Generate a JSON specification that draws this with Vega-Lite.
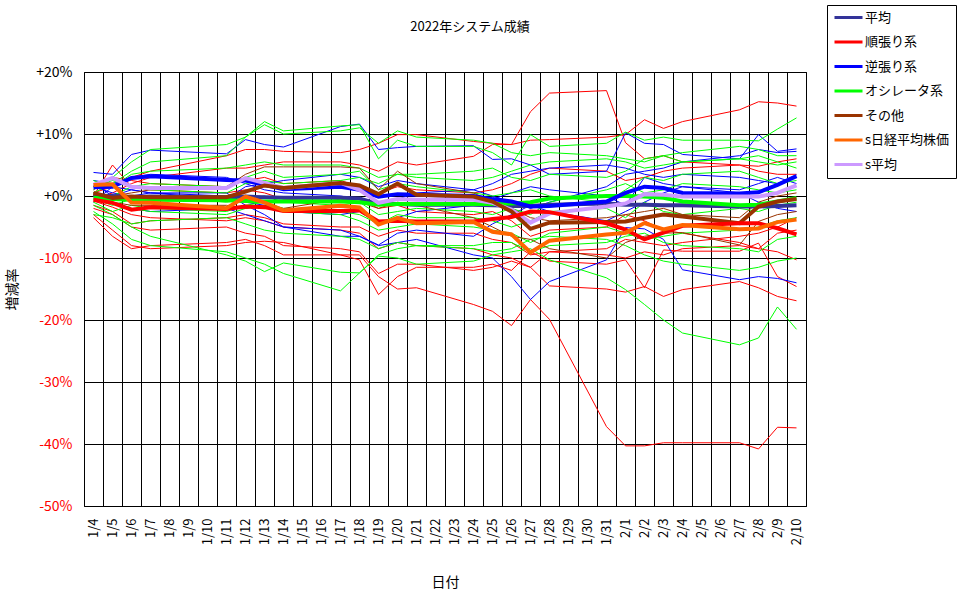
{
  "$schema": "https://vega.github.io/schema/vega-lite/v6.json",
  "width": 722,
  "height": 434,
  "autosize": "none",
  "padding": {"left": 84, "top": 72, "right": 164, "bottom": 93},
  "background": "white",
  "title": {"text": "2022年システム成績", "fontSize": 13, "fontWeight": "normal", "color": "black", "offset": 0, "dy": 29, "dx": 25},
  "datasets": {
    "series": [
      {"s":"R1","g":"順張り系","k":"sys"},{"s":"R2","g":"順張り系","k":"sys"},{"s":"R3","g":"順張り系","k":"sys"},
      {"s":"R4","g":"順張り系","k":"sys"},{"s":"R5","g":"順張り系","k":"sys"},{"s":"R6","g":"順張り系","k":"sys"},
      {"s":"R7","g":"順張り系","k":"sys"},{"s":"R8","g":"順張り系","k":"sys"},{"s":"R9","g":"順張り系","k":"sys"},
      {"s":"B1","g":"逆張り系","k":"sys"},{"s":"B2","g":"逆張り系","k":"sys"},{"s":"B3","g":"逆張り系","k":"sys"},
      {"s":"B4","g":"逆張り系","k":"sys"},{"s":"B5","g":"逆張り系","k":"sys"},{"s":"B6","g":"逆張り系","k":"sys"},
      {"s":"G1","g":"オシレータ系","k":"sys"},{"s":"G2","g":"オシレータ系","k":"sys"},{"s":"G3","g":"オシレータ系","k":"sys"},
      {"s":"G4","g":"オシレータ系","k":"sys"},{"s":"G5","g":"オシレータ系","k":"sys"},{"s":"G6","g":"オシレータ系","k":"sys"},
      {"s":"G7","g":"オシレータ系","k":"sys"},{"s":"G8","g":"オシレータ系","k":"sys"},{"s":"G9","g":"オシレータ系","k":"sys"},
      {"s":"G10","g":"オシレータ系","k":"sys"},{"s":"G11","g":"オシレータ系","k":"sys"},
      {"s":"N1","g":"その他","k":"sys"},{"s":"N2","g":"その他","k":"sys"},
      {"s":"A","g":"平均","k":"avg"},{"s":"AG","g":"オシレータ系","k":"avg"},{"s":"AB","g":"逆張り系","k":"avg"},
      {"s":"SA","g":"s平均","k":"avg"},{"s":"AN","g":"その他","k":"avg"},{"s":"AR","g":"順張り系","k":"avg"},
      {"s":"NK","g":"s日経平均株価","k":"avg"}
    ],
    "rows": [
      {"s":"R1","d":"1/4","v":-3.0},{"s":"R1","d":"1/5","v":-5.5},{"s":"R1","d":"1/6","v":-8.0},{"s":"R1","d":"1/7","v":-8.5},{"s":"R1","d":"1/11","v":-8.0},{"s":"R1","d":"1/12","v":-7.5},{"s":"R1","d":"1/13","v":-7.3},{"s":"R1","d":"1/14","v":-7.5},{"s":"R1","d":"1/17","v":-9.5},{"s":"R1","d":"1/18","v":-9.5},{"s":"R1","d":"1/19","v":-13.0},{"s":"R1","d":"1/20","v":-15.0},{"s":"R1","d":"1/21","v":-14.8},{"s":"R1","d":"1/24","v":-17.5},{"s":"R1","d":"1/25","v":-18.6},{"s":"R1","d":"1/26","v":-20.9},{"s":"R1","d":"1/27","v":-16.7},{"s":"R1","d":"1/28","v":-19.9},{"s":"R1","d":"1/31","v":-37.2},{"s":"R1","d":"2/1","v":-40.3},{"s":"R1","d":"2/2","v":-40.3},{"s":"R1","d":"2/3","v":-39.8},{"s":"R1","d":"2/4","v":-39.8},{"s":"R1","d":"2/7","v":-39.8},{"s":"R1","d":"2/8","v":-40.8},{"s":"R1","d":"2/9","v":-37.3},{"s":"R1","d":"2/10","v":-37.4},
      {"s":"R2","d":"1/4","v":0.5},{"s":"R2","d":"1/5","v":1.5},{"s":"R2","d":"1/6","v":3.0},{"s":"R2","d":"1/7","v":4.0},{"s":"R2","d":"1/11","v":6.5},{"s":"R2","d":"1/12","v":7.5},{"s":"R2","d":"1/13","v":7.5},{"s":"R2","d":"1/14","v":7.2},{"s":"R2","d":"1/17","v":7.0},{"s":"R2","d":"1/18","v":7.5},{"s":"R2","d":"1/19","v":8.5},{"s":"R2","d":"1/20","v":9.9},{"s":"R2","d":"1/21","v":9.9},{"s":"R2","d":"1/24","v":8.8},{"s":"R2","d":"1/25","v":8.5},{"s":"R2","d":"1/26","v":8.3},{"s":"R2","d":"1/27","v":9.0},{"s":"R2","d":"1/28","v":9.1},{"s":"R2","d":"1/31","v":9.5},{"s":"R2","d":"2/1","v":9.9},{"s":"R2","d":"2/2","v":12.3},{"s":"R2","d":"2/3","v":10.9},{"s":"R2","d":"2/4","v":12.0},{"s":"R2","d":"2/7","v":13.9},{"s":"R2","d":"2/8","v":15.2},{"s":"R2","d":"2/9","v":15.0},{"s":"R2","d":"2/10","v":14.5},
      {"s":"R3","d":"1/4","v":-0.5},{"s":"R3","d":"1/5","v":0.5},{"s":"R3","d":"1/6","v":2.0},{"s":"R3","d":"1/7","v":3.0},{"s":"R3","d":"1/11","v":4.5},{"s":"R3","d":"1/12","v":4.5},{"s":"R3","d":"1/13","v":5.0},{"s":"R3","d":"1/14","v":5.5},{"s":"R3","d":"1/17","v":5.5},{"s":"R3","d":"1/18","v":5.0},{"s":"R3","d":"1/19","v":4.0},{"s":"R3","d":"1/20","v":5.5},{"s":"R3","d":"1/21","v":5.0},{"s":"R3","d":"1/24","v":6.4},{"s":"R3","d":"1/25","v":8.3},{"s":"R3","d":"1/26","v":8.3},{"s":"R3","d":"1/27","v":13.6},{"s":"R3","d":"1/28","v":16.6},{"s":"R3","d":"1/31","v":17.0},{"s":"R3","d":"2/1","v":8.6},{"s":"R3","d":"2/2","v":6.0},{"s":"R3","d":"2/3","v":6.5},{"s":"R3","d":"2/4","v":5.5},{"s":"R3","d":"2/7","v":5.0},{"s":"R3","d":"2/8","v":4.8},{"s":"R3","d":"2/9","v":5.5},{"s":"R3","d":"2/10","v":6.0},
      {"s":"R4","d":"1/4","v":-1.5},{"s":"R4","d":"1/5","v":-2.5},{"s":"R4","d":"1/6","v":-4.5},{"s":"R4","d":"1/7","v":-4.0},{"s":"R4","d":"1/11","v":-3.5},{"s":"R4","d":"1/12","v":-3.0},{"s":"R4","d":"1/13","v":-3.5},{"s":"R4","d":"1/14","v":-4.5},{"s":"R4","d":"1/17","v":-5.0},{"s":"R4","d":"1/18","v":-5.0},{"s":"R4","d":"1/19","v":-6.5},{"s":"R4","d":"1/20","v":-5.5},{"s":"R4","d":"1/21","v":-6.0},{"s":"R4","d":"1/24","v":-6.0},{"s":"R4","d":"1/25","v":-7.0},{"s":"R4","d":"1/26","v":-7.5},{"s":"R4","d":"1/27","v":-9.5},{"s":"R4","d":"1/28","v":-9.0},{"s":"R4","d":"1/31","v":-9.5},{"s":"R4","d":"2/1","v":-10.0},{"s":"R4","d":"2/2","v":-9.0},{"s":"R4","d":"2/3","v":-9.5},{"s":"R4","d":"2/4","v":-8.5},{"s":"R4","d":"2/7","v":-8.0},{"s":"R4","d":"2/8","v":-8.5},{"s":"R4","d":"2/9","v":-9.0},{"s":"R4","d":"2/10","v":-10.3},
      {"s":"R5","d":"1/4","v":-2.0},{"s":"R5","d":"1/5","v":-3.0},{"s":"R5","d":"1/6","v":-5.0},{"s":"R5","d":"1/7","v":-5.5},{"s":"R5","d":"1/11","v":-5.0},{"s":"R5","d":"1/12","v":-6.0},{"s":"R5","d":"1/13","v":-6.5},{"s":"R5","d":"1/14","v":-8.0},{"s":"R5","d":"1/17","v":-8.5},{"s":"R5","d":"1/18","v":-9.0},{"s":"R5","d":"1/19","v":-12.5},{"s":"R5","d":"1/20","v":-11.0},{"s":"R5","d":"1/21","v":-11.0},{"s":"R5","d":"1/24","v":-12.0},{"s":"R5","d":"1/25","v":-11.5},{"s":"R5","d":"1/26","v":-10.5},{"s":"R5","d":"1/27","v":-11.5},{"s":"R5","d":"1/28","v":-14.5},{"s":"R5","d":"1/31","v":-15.0},{"s":"R5","d":"2/1","v":-15.5},{"s":"R5","d":"2/2","v":-14.6},{"s":"R5","d":"2/3","v":-16.2},{"s":"R5","d":"2/4","v":-15.1},{"s":"R5","d":"2/7","v":-13.8},{"s":"R5","d":"2/8","v":-14.8},{"s":"R5","d":"2/9","v":-16.2},{"s":"R5","d":"2/10","v":-16.9},
      {"s":"R6","d":"1/4","v":-0.8},{"s":"R6","d":"1/5","v":-1.8},{"s":"R6","d":"1/6","v":-3.0},{"s":"R6","d":"1/7","v":-3.5},{"s":"R6","d":"1/11","v":-4.0},{"s":"R6","d":"1/12","v":-3.5},{"s":"R6","d":"1/13","v":-4.0},{"s":"R6","d":"1/14","v":-5.0},{"s":"R6","d":"1/17","v":-5.5},{"s":"R6","d":"1/18","v":-6.0},{"s":"R6","d":"1/19","v":-8.5},{"s":"R6","d":"1/20","v":-7.5},{"s":"R6","d":"1/21","v":-8.0},{"s":"R6","d":"1/24","v":-8.5},{"s":"R6","d":"1/25","v":-9.5},{"s":"R6","d":"1/26","v":-10.0},{"s":"R6","d":"1/27","v":-11.5},{"s":"R6","d":"1/28","v":-9.0},{"s":"R6","d":"1/31","v":-8.5},{"s":"R6","d":"2/1","v":-7.0},{"s":"R6","d":"2/2","v":-7.5},{"s":"R6","d":"2/3","v":-8.0},{"s":"R6","d":"2/4","v":-7.5},{"s":"R6","d":"2/7","v":-6.5},{"s":"R6","d":"2/8","v":-6.0},{"s":"R6","d":"2/9","v":-5.0},{"s":"R6","d":"2/10","v":-3.5},
      {"s":"R7","d":"1/4","v":1.0},{"s":"R7","d":"1/5","v":3.0},{"s":"R7","d":"1/6","v":2.5},{"s":"R7","d":"1/7","v":2.0},{"s":"R7","d":"1/11","v":1.5},{"s":"R7","d":"1/12","v":2.5},{"s":"R7","d":"1/13","v":3.0},{"s":"R7","d":"1/14","v":2.0},{"s":"R7","d":"1/17","v":2.5},{"s":"R7","d":"1/18","v":1.5},{"s":"R7","d":"1/19","v":0.5},{"s":"R7","d":"1/20","v":1.5},{"s":"R7","d":"1/21","v":1.0},{"s":"R7","d":"1/24","v":0.5},{"s":"R7","d":"1/25","v":1.0},{"s":"R7","d":"1/26","v":2.0},{"s":"R7","d":"1/27","v":3.5},{"s":"R7","d":"1/28","v":4.5},{"s":"R7","d":"1/31","v":4.0},{"s":"R7","d":"2/1","v":2.5},{"s":"R7","d":"2/2","v":3.0},{"s":"R7","d":"2/3","v":4.0},{"s":"R7","d":"2/4","v":4.5},{"s":"R7","d":"2/7","v":5.0},{"s":"R7","d":"2/8","v":4.0},{"s":"R7","d":"2/9","v":3.5},{"s":"R7","d":"2/10","v":3.5},
      {"s":"R8","d":"1/4","v":0.0},{"s":"R8","d":"1/5","v":5.0},{"s":"R8","d":"1/6","v":1.5},{"s":"R8","d":"1/7","v":1.0},{"s":"R8","d":"1/11","v":0.5},{"s":"R8","d":"1/12","v":1.0},{"s":"R8","d":"1/13","v":0.5},{"s":"R8","d":"1/14","v":-0.5},{"s":"R8","d":"1/17","v":-1.0},{"s":"R8","d":"1/18","v":-0.5},{"s":"R8","d":"1/19","v":-2.0},{"s":"R8","d":"1/20","v":-1.5},{"s":"R8","d":"1/21","v":-2.5},{"s":"R8","d":"1/24","v":-3.0},{"s":"R8","d":"1/25","v":-2.5},{"s":"R8","d":"1/26","v":-4.0},{"s":"R8","d":"1/27","v":-6.5},{"s":"R8","d":"1/28","v":-5.5},{"s":"R8","d":"1/31","v":-5.0},{"s":"R8","d":"2/1","v":-3.0},{"s":"R8","d":"2/2","v":-4.0},{"s":"R8","d":"2/3","v":-5.5},{"s":"R8","d":"2/4","v":-6.0},{"s":"R8","d":"2/7","v":-7.5},{"s":"R8","d":"2/8","v":-8.5},{"s":"R8","d":"2/9","v":-6.0},{"s":"R8","d":"2/10","v":-5.5},
      {"s":"R9","d":"1/4","v":-3.5},{"s":"R9","d":"1/5","v":-6.5},{"s":"R9","d":"1/6","v":-8.5},{"s":"R9","d":"1/7","v":-8.0},{"s":"R9","d":"1/11","v":-7.5},{"s":"R9","d":"1/12","v":-7.0},{"s":"R9","d":"1/13","v":-8.0},{"s":"R9","d":"1/14","v":-9.5},{"s":"R9","d":"1/17","v":-9.5},{"s":"R9","d":"1/18","v":-10.3},{"s":"R9","d":"1/19","v":-15.9},{"s":"R9","d":"1/20","v":-13.0},{"s":"R9","d":"1/21","v":-11.5},{"s":"R9","d":"1/24","v":-11.5},{"s":"R9","d":"1/25","v":-11.0},{"s":"R9","d":"1/26","v":-12.0},{"s":"R9","d":"1/27","v":-9.0},{"s":"R9","d":"1/28","v":-10.5},{"s":"R9","d":"1/31","v":-11.0},{"s":"R9","d":"2/1","v":-10.3},{"s":"R9","d":"2/2","v":-14.8},{"s":"R9","d":"2/3","v":-8.7},{"s":"R9","d":"2/4","v":-8.9},{"s":"R9","d":"2/7","v":-8.9},{"s":"R9","d":"2/8","v":-7.6},{"s":"R9","d":"2/9","v":-13.0},{"s":"R9","d":"2/10","v":-14.6},
      {"s":"B1","d":"1/4","v":3.8},{"s":"B1","d":"1/5","v":3.5},{"s":"B1","d":"1/6","v":6.7},{"s":"B1","d":"1/7","v":7.4},{"s":"B1","d":"1/11","v":6.8},{"s":"B1","d":"1/12","v":9.1},{"s":"B1","d":"1/13","v":8.3},{"s":"B1","d":"1/14","v":7.9},{"s":"B1","d":"1/17","v":11.2},{"s":"B1","d":"1/18","v":11.6},{"s":"B1","d":"1/19","v":7.5},{"s":"B1","d":"1/20","v":7.8},{"s":"B1","d":"1/21","v":8.0},{"s":"B1","d":"1/24","v":8.1},{"s":"B1","d":"1/25","v":5.9},{"s":"B1","d":"1/26","v":6.0},{"s":"B1","d":"1/27","v":5.0},{"s":"B1","d":"1/28","v":3.5},{"s":"B1","d":"1/31","v":4.0},{"s":"B1","d":"2/1","v":10.2},{"s":"B1","d":"2/2","v":8.5},{"s":"B1","d":"2/3","v":8.3},{"s":"B1","d":"2/4","v":6.7},{"s":"B1","d":"2/7","v":6.0},{"s":"B1","d":"2/8","v":9.9},{"s":"B1","d":"2/9","v":7.2},{"s":"B1","d":"2/10","v":7.6},
      {"s":"B2","d":"1/4","v":2.5},{"s":"B2","d":"1/5","v":2.0},{"s":"B2","d":"1/6","v":3.0},{"s":"B2","d":"1/7","v":3.5},{"s":"B2","d":"1/11","v":3.0},{"s":"B2","d":"1/12","v":2.0},{"s":"B2","d":"1/13","v":1.0},{"s":"B2","d":"1/14","v":0.5},{"s":"B2","d":"1/17","v":0.0},{"s":"B2","d":"1/18","v":-0.5},{"s":"B2","d":"1/19","v":-1.5},{"s":"B2","d":"1/20","v":-0.5},{"s":"B2","d":"1/21","v":0.5},{"s":"B2","d":"1/24","v":1.0},{"s":"B2","d":"1/25","v":2.0},{"s":"B2","d":"1/26","v":3.5},{"s":"B2","d":"1/27","v":4.0},{"s":"B2","d":"1/28","v":4.5},{"s":"B2","d":"1/31","v":5.0},{"s":"B2","d":"2/1","v":4.5},{"s":"B2","d":"2/2","v":3.5},{"s":"B2","d":"2/3","v":3.0},{"s":"B2","d":"2/4","v":3.5},{"s":"B2","d":"2/7","v":3.0},{"s":"B2","d":"2/8","v":2.5},{"s":"B2","d":"2/9","v":2.0},{"s":"B2","d":"2/10","v":3.4},
      {"s":"B3","d":"1/4","v":-1.0},{"s":"B3","d":"1/5","v":1.5},{"s":"B3","d":"1/6","v":1.0},{"s":"B3","d":"1/7","v":0.5},{"s":"B3","d":"1/11","v":0.5},{"s":"B3","d":"1/12","v":-1.5},{"s":"B3","d":"1/13","v":-3.0},{"s":"B3","d":"1/14","v":-5.0},{"s":"B3","d":"1/17","v":-6.5},{"s":"B3","d":"1/18","v":-6.5},{"s":"B3","d":"1/19","v":-8.0},{"s":"B3","d":"1/20","v":-7.5},{"s":"B3","d":"1/21","v":-7.0},{"s":"B3","d":"1/24","v":-9.5},{"s":"B3","d":"1/25","v":-10.0},{"s":"B3","d":"1/26","v":-13.0},{"s":"B3","d":"1/27","v":-16.7},{"s":"B3","d":"1/28","v":-13.8},{"s":"B3","d":"1/31","v":-10.3},{"s":"B3","d":"2/1","v":-5.1},{"s":"B3","d":"2/2","v":-5.3},{"s":"B3","d":"2/3","v":-7.0},{"s":"B3","d":"2/4","v":-11.9},{"s":"B3","d":"2/7","v":-13.5},{"s":"B3","d":"2/8","v":-13.0},{"s":"B3","d":"2/9","v":-13.3},{"s":"B3","d":"2/10","v":-14.0},
      {"s":"B4","d":"1/4","v":1.5},{"s":"B4","d":"1/5","v":0.5},{"s":"B4","d":"1/6","v":0.0},{"s":"B4","d":"1/7","v":0.5},{"s":"B4","d":"1/11","v":-0.5},{"s":"B4","d":"1/12","v":1.5},{"s":"B4","d":"1/13","v":2.0},{"s":"B4","d":"1/14","v":2.5},{"s":"B4","d":"1/17","v":3.5},{"s":"B4","d":"1/18","v":3.0},{"s":"B4","d":"1/19","v":1.5},{"s":"B4","d":"1/20","v":2.5},{"s":"B4","d":"1/21","v":2.0},{"s":"B4","d":"1/24","v":1.0},{"s":"B4","d":"1/25","v":0.0},{"s":"B4","d":"1/26","v":-1.0},{"s":"B4","d":"1/27","v":-2.0},{"s":"B4","d":"1/28","v":-1.0},{"s":"B4","d":"1/31","v":1.5},{"s":"B4","d":"2/1","v":3.5},{"s":"B4","d":"2/2","v":4.0},{"s":"B4","d":"2/3","v":4.5},{"s":"B4","d":"2/4","v":5.5},{"s":"B4","d":"2/7","v":6.5},{"s":"B4","d":"2/8","v":7.5},{"s":"B4","d":"2/9","v":7.0},{"s":"B4","d":"2/10","v":7.2},
      {"s":"B5","d":"1/4","v":0.5},{"s":"B5","d":"1/5","v":-1.0},{"s":"B5","d":"1/6","v":-2.0},{"s":"B5","d":"1/7","v":-2.5},{"s":"B5","d":"1/11","v":-2.0},{"s":"B5","d":"1/12","v":-3.0},{"s":"B5","d":"1/13","v":-4.0},{"s":"B5","d":"1/14","v":-5.0},{"s":"B5","d":"1/17","v":-5.5},{"s":"B5","d":"1/18","v":-6.5},{"s":"B5","d":"1/19","v":-7.9},{"s":"B5","d":"1/20","v":-6.0},{"s":"B5","d":"1/21","v":-5.5},{"s":"B5","d":"1/24","v":-6.5},{"s":"B5","d":"1/25","v":-4.5},{"s":"B5","d":"1/26","v":-3.0},{"s":"B5","d":"1/27","v":-1.5},{"s":"B5","d":"1/28","v":-2.5},{"s":"B5","d":"1/31","v":-4.0},{"s":"B5","d":"2/1","v":-2.5},{"s":"B5","d":"2/2","v":-1.0},{"s":"B5","d":"2/3","v":0.5},{"s":"B5","d":"2/4","v":1.5},{"s":"B5","d":"2/7","v":0.5},{"s":"B5","d":"2/8","v":-1.0},{"s":"B5","d":"2/9","v":-2.0},{"s":"B5","d":"2/10","v":-2.5},
      {"s":"B6","d":"1/4","v":2.0},{"s":"B6","d":"1/5","v":0.0},{"s":"B6","d":"1/6","v":1.0},{"s":"B6","d":"1/7","v":0.5},{"s":"B6","d":"1/11","v":0.0},{"s":"B6","d":"1/12","v":-1.0},{"s":"B6","d":"1/13","v":-1.5},{"s":"B6","d":"1/14","v":-2.5},{"s":"B6","d":"1/17","v":-3.0},{"s":"B6","d":"1/18","v":-2.5},{"s":"B6","d":"1/19","v":-4.5},{"s":"B6","d":"1/20","v":-3.5},{"s":"B6","d":"1/21","v":-2.5},{"s":"B6","d":"1/24","v":-1.5},{"s":"B6","d":"1/25","v":-0.5},{"s":"B6","d":"1/26","v":0.5},{"s":"B6","d":"1/27","v":1.5},{"s":"B6","d":"1/28","v":1.0},{"s":"B6","d":"1/31","v":0.0},{"s":"B6","d":"2/1","v":-1.5},{"s":"B6","d":"2/2","v":3.0},{"s":"B6","d":"2/3","v":2.0},{"s":"B6","d":"2/4","v":1.5},{"s":"B6","d":"2/7","v":1.0},{"s":"B6","d":"2/8","v":2.0},{"s":"B6","d":"2/9","v":3.0},{"s":"B6","d":"2/10","v":2.0},
      {"s":"G1","d":"1/4","v":1.0},{"s":"G1","d":"1/5","v":3.0},{"s":"G1","d":"1/6","v":5.5},{"s":"G1","d":"1/7","v":7.5},{"s":"G1","d":"1/11","v":8.3},{"s":"G1","d":"1/12","v":9.5},{"s":"G1","d":"1/13","v":12.0},{"s":"G1","d":"1/14","v":10.5},{"s":"G1","d":"1/17","v":11.3},{"s":"G1","d":"1/18","v":11.5},{"s":"G1","d":"1/19","v":6.0},{"s":"G1","d":"1/20","v":9.0},{"s":"G1","d":"1/21","v":8.0},{"s":"G1","d":"1/24","v":8.0},{"s":"G1","d":"1/25","v":7.0},{"s":"G1","d":"1/26","v":5.0},{"s":"G1","d":"1/27","v":9.9},{"s":"G1","d":"1/28","v":8.0},{"s":"G1","d":"1/31","v":8.5},{"s":"G1","d":"2/1","v":10.3},{"s":"G1","d":"2/2","v":9.0},{"s":"G1","d":"2/3","v":9.5},{"s":"G1","d":"2/4","v":9.0},{"s":"G1","d":"2/7","v":9.0},{"s":"G1","d":"2/8","v":8.9},{"s":"G1","d":"2/9","v":10.8},{"s":"G1","d":"2/10","v":12.6},
      {"s":"G2","d":"1/4","v":0.5},{"s":"G2","d":"1/5","v":2.0},{"s":"G2","d":"1/6","v":4.0},{"s":"G2","d":"1/7","v":5.5},{"s":"G2","d":"1/11","v":6.5},{"s":"G2","d":"1/12","v":9.5},{"s":"G2","d":"1/13","v":11.5},{"s":"G2","d":"1/14","v":10.0},{"s":"G2","d":"1/17","v":10.5},{"s":"G2","d":"1/18","v":11.0},{"s":"G2","d":"1/19","v":8.5},{"s":"G2","d":"1/20","v":10.5},{"s":"G2","d":"1/21","v":9.5},{"s":"G2","d":"1/24","v":9.0},{"s":"G2","d":"1/25","v":8.5},{"s":"G2","d":"1/26","v":7.0},{"s":"G2","d":"1/27","v":6.5},{"s":"G2","d":"1/28","v":7.0},{"s":"G2","d":"1/31","v":6.5},{"s":"G2","d":"2/1","v":6.0},{"s":"G2","d":"2/2","v":5.5},{"s":"G2","d":"2/3","v":6.5},{"s":"G2","d":"2/4","v":7.0},{"s":"G2","d":"2/7","v":8.0},{"s":"G2","d":"2/8","v":7.5},{"s":"G2","d":"2/9","v":6.5},{"s":"G2","d":"2/10","v":6.5},
      {"s":"G3","d":"1/4","v":-1.5},{"s":"G3","d":"1/5","v":-3.0},{"s":"G3","d":"1/6","v":-5.0},{"s":"G3","d":"1/7","v":-6.5},{"s":"G3","d":"1/11","v":-9.5},{"s":"G3","d":"1/12","v":-10.5},{"s":"G3","d":"1/13","v":-12.2},{"s":"G3","d":"1/14","v":-10.8},{"s":"G3","d":"1/17","v":-12.3},{"s":"G3","d":"1/18","v":-12.4},{"s":"G3","d":"1/19","v":-9.7},{"s":"G3","d":"1/20","v":-10.0},{"s":"G3","d":"1/21","v":-11.0},{"s":"G3","d":"1/24","v":-10.5},{"s":"G3","d":"1/25","v":-9.5},{"s":"G3","d":"1/26","v":-9.0},{"s":"G3","d":"1/27","v":-8.5},{"s":"G3","d":"1/28","v":-10.3},{"s":"G3","d":"1/31","v":-13.2},{"s":"G3","d":"2/1","v":-15.1},{"s":"G3","d":"2/2","v":-17.5},{"s":"G3","d":"2/3","v":-20.0},{"s":"G3","d":"2/4","v":-22.1},{"s":"G3","d":"2/7","v":-24.0},{"s":"G3","d":"2/8","v":-22.9},{"s":"G3","d":"2/9","v":-17.9},{"s":"G3","d":"2/10","v":-21.5},
      {"s":"G4","d":"1/4","v":-2.5},{"s":"G4","d":"1/5","v":-4.5},{"s":"G4","d":"1/6","v":-7.0},{"s":"G4","d":"1/7","v":-8.0},{"s":"G4","d":"1/11","v":-9.0},{"s":"G4","d":"1/12","v":-10.0},{"s":"G4","d":"1/13","v":-11.0},{"s":"G4","d":"1/14","v":-12.5},{"s":"G4","d":"1/17","v":-15.3},{"s":"G4","d":"1/18","v":-12.4},{"s":"G4","d":"1/19","v":-9.5},{"s":"G4","d":"1/20","v":-8.5},{"s":"G4","d":"1/21","v":-8.0},{"s":"G4","d":"1/24","v":-8.5},{"s":"G4","d":"1/25","v":-9.0},{"s":"G4","d":"1/26","v":-8.5},{"s":"G4","d":"1/27","v":-7.0},{"s":"G4","d":"1/28","v":-6.5},{"s":"G4","d":"1/31","v":-7.0},{"s":"G4","d":"2/1","v":-8.0},{"s":"G4","d":"2/2","v":-9.5},{"s":"G4","d":"2/3","v":-10.5},{"s":"G4","d":"2/4","v":-11.0},{"s":"G4","d":"2/7","v":-12.0},{"s":"G4","d":"2/8","v":-11.5},{"s":"G4","d":"2/9","v":-10.5},{"s":"G4","d":"2/10","v":-10.0},
      {"s":"G5","d":"1/4","v":0.0},{"s":"G5","d":"1/5","v":-1.0},{"s":"G5","d":"1/6","v":-2.0},{"s":"G5","d":"1/7","v":-2.5},{"s":"G5","d":"1/11","v":-3.0},{"s":"G5","d":"1/12","v":-2.0},{"s":"G5","d":"1/13","v":-1.5},{"s":"G5","d":"1/14","v":-2.5},{"s":"G5","d":"1/17","v":-3.0},{"s":"G5","d":"1/18","v":-4.0},{"s":"G5","d":"1/19","v":-5.5},{"s":"G5","d":"1/20","v":-5.0},{"s":"G5","d":"1/21","v":-4.5},{"s":"G5","d":"1/24","v":-5.0},{"s":"G5","d":"1/25","v":-5.5},{"s":"G5","d":"1/26","v":-6.0},{"s":"G5","d":"1/27","v":-7.5},{"s":"G5","d":"1/28","v":-6.0},{"s":"G5","d":"1/31","v":-5.0},{"s":"G5","d":"2/1","v":-6.0},{"s":"G5","d":"2/2","v":-7.0},{"s":"G5","d":"2/3","v":-6.5},{"s":"G5","d":"2/4","v":-6.0},{"s":"G5","d":"2/7","v":-5.5},{"s":"G5","d":"2/8","v":-5.0},{"s":"G5","d":"2/9","v":-4.0},{"s":"G5","d":"2/10","v":-3.5},
      {"s":"G6","d":"1/4","v":1.5},{"s":"G6","d":"1/5","v":2.5},{"s":"G6","d":"1/6","v":1.5},{"s":"G6","d":"1/7","v":1.0},{"s":"G6","d":"1/11","v":0.5},{"s":"G6","d":"1/12","v":2.0},{"s":"G6","d":"1/13","v":2.5},{"s":"G6","d":"1/14","v":2.0},{"s":"G6","d":"1/17","v":2.5},{"s":"G6","d":"1/18","v":3.0},{"s":"G6","d":"1/19","v":2.0},{"s":"G6","d":"1/20","v":3.5},{"s":"G6","d":"1/21","v":3.0},{"s":"G6","d":"1/24","v":2.5},{"s":"G6","d":"1/25","v":3.0},{"s":"G6","d":"1/26","v":4.0},{"s":"G6","d":"1/27","v":5.0},{"s":"G6","d":"1/28","v":5.5},{"s":"G6","d":"1/31","v":6.0},{"s":"G6","d":"2/1","v":5.5},{"s":"G6","d":"2/2","v":4.5},{"s":"G6","d":"2/3","v":5.0},{"s":"G6","d":"2/4","v":5.5},{"s":"G6","d":"2/7","v":6.0},{"s":"G6","d":"2/8","v":5.5},{"s":"G6","d":"2/9","v":5.0},{"s":"G6","d":"2/10","v":5.5},
      {"s":"G7","d":"1/4","v":-0.5},{"s":"G7","d":"1/5","v":-1.5},{"s":"G7","d":"1/6","v":-0.5},{"s":"G7","d":"1/7","v":0.0},{"s":"G7","d":"1/11","v":-1.0},{"s":"G7","d":"1/12","v":-0.5},{"s":"G7","d":"1/13","v":0.0},{"s":"G7","d":"1/14","v":-1.0},{"s":"G7","d":"1/17","v":-1.5},{"s":"G7","d":"1/18","v":-1.0},{"s":"G7","d":"1/19","v":-3.0},{"s":"G7","d":"1/20","v":-2.5},{"s":"G7","d":"1/21","v":-2.0},{"s":"G7","d":"1/24","v":-2.5},{"s":"G7","d":"1/25","v":-3.0},{"s":"G7","d":"1/26","v":-2.0},{"s":"G7","d":"1/27","v":-3.0},{"s":"G7","d":"1/28","v":-1.0},{"s":"G7","d":"1/31","v":1.0},{"s":"G7","d":"2/1","v":2.0},{"s":"G7","d":"2/2","v":0.5},{"s":"G7","d":"2/3","v":1.0},{"s":"G7","d":"2/4","v":2.0},{"s":"G7","d":"2/7","v":1.5},{"s":"G7","d":"2/8","v":1.0},{"s":"G7","d":"2/9","v":0.5},{"s":"G7","d":"2/10","v":1.0},
      {"s":"G8","d":"1/4","v":-3.0},{"s":"G8","d":"1/5","v":-3.5},{"s":"G8","d":"1/6","v":-4.5},{"s":"G8","d":"1/7","v":-4.0},{"s":"G8","d":"1/11","v":-3.5},{"s":"G8","d":"1/12","v":-4.5},{"s":"G8","d":"1/13","v":-5.5},{"s":"G8","d":"1/14","v":-6.0},{"s":"G8","d":"1/17","v":-6.5},{"s":"G8","d":"1/18","v":-7.0},{"s":"G8","d":"1/19","v":-8.5},{"s":"G8","d":"1/20","v":-7.5},{"s":"G8","d":"1/21","v":-8.0},{"s":"G8","d":"1/24","v":-8.0},{"s":"G8","d":"1/25","v":-7.5},{"s":"G8","d":"1/26","v":-7.5},{"s":"G8","d":"1/27","v":-9.0},{"s":"G8","d":"1/28","v":-8.0},{"s":"G8","d":"1/31","v":-7.5},{"s":"G8","d":"2/1","v":-6.5},{"s":"G8","d":"2/2","v":-6.0},{"s":"G8","d":"2/3","v":-7.5},{"s":"G8","d":"2/4","v":-8.0},{"s":"G8","d":"2/7","v":-8.5},{"s":"G8","d":"2/8","v":-9.0},{"s":"G8","d":"2/9","v":-7.0},{"s":"G8","d":"2/10","v":-6.5},
      {"s":"G9","d":"1/4","v":2.5},{"s":"G9","d":"1/5","v":1.5},{"s":"G9","d":"1/6","v":3.5},{"s":"G9","d":"1/7","v":4.0},{"s":"G9","d":"1/11","v":4.5},{"s":"G9","d":"1/12","v":5.0},{"s":"G9","d":"1/13","v":5.5},{"s":"G9","d":"1/14","v":5.0},{"s":"G9","d":"1/17","v":5.0},{"s":"G9","d":"1/18","v":4.5},{"s":"G9","d":"1/19","v":3.0},{"s":"G9","d":"1/20","v":3.5},{"s":"G9","d":"1/21","v":3.5},{"s":"G9","d":"1/24","v":4.0},{"s":"G9","d":"1/25","v":4.5},{"s":"G9","d":"1/26","v":3.0},{"s":"G9","d":"1/27","v":2.5},{"s":"G9","d":"1/28","v":3.5},{"s":"G9","d":"1/31","v":3.0},{"s":"G9","d":"2/1","v":4.0},{"s":"G9","d":"2/2","v":6.0},{"s":"G9","d":"2/3","v":6.5},{"s":"G9","d":"2/4","v":5.5},{"s":"G9","d":"2/7","v":6.0},{"s":"G9","d":"2/8","v":6.5},{"s":"G9","d":"2/9","v":5.5},{"s":"G9","d":"2/10","v":4.5},
      {"s":"G10","d":"1/4","v":-1.0},{"s":"G10","d":"1/5","v":-2.5},{"s":"G10","d":"1/6","v":-1.5},{"s":"G10","d":"1/7","v":-2.0},{"s":"G10","d":"1/11","v":-2.5},{"s":"G10","d":"1/12","v":-1.5},{"s":"G10","d":"1/13","v":-1.0},{"s":"G10","d":"1/14","v":-2.0},{"s":"G10","d":"1/17","v":-2.5},{"s":"G10","d":"1/18","v":-3.0},{"s":"G10","d":"1/19","v":-4.5},{"s":"G10","d":"1/20","v":-3.0},{"s":"G10","d":"1/21","v":-3.5},{"s":"G10","d":"1/24","v":-3.5},{"s":"G10","d":"1/25","v":-4.0},{"s":"G10","d":"1/26","v":-5.0},{"s":"G10","d":"1/27","v":-4.0},{"s":"G10","d":"1/28","v":-2.5},{"s":"G10","d":"1/31","v":-2.0},{"s":"G10","d":"2/1","v":-3.5},{"s":"G10","d":"2/2","v":-1.0},{"s":"G10","d":"2/3","v":-2.5},{"s":"G10","d":"2/4","v":-3.0},{"s":"G10","d":"2/7","v":-2.0},{"s":"G10","d":"2/8","v":-2.5},{"s":"G10","d":"2/9","v":-1.5},{"s":"G10","d":"2/10","v":-1.0},
      {"s":"G11","d":"1/4","v":0.5},{"s":"G11","d":"1/5","v":0.0},{"s":"G11","d":"1/6","v":1.5},{"s":"G11","d":"1/7","v":2.0},{"s":"G11","d":"1/11","v":1.5},{"s":"G11","d":"1/12","v":3.0},{"s":"G11","d":"1/13","v":4.0},{"s":"G11","d":"1/14","v":3.0},{"s":"G11","d":"1/17","v":3.5},{"s":"G11","d":"1/18","v":4.0},{"s":"G11","d":"1/19","v":1.0},{"s":"G11","d":"1/20","v":2.0},{"s":"G11","d":"1/21","v":1.5},{"s":"G11","d":"1/24","v":0.5},{"s":"G11","d":"1/25","v":0.0},{"s":"G11","d":"1/26","v":0.5},{"s":"G11","d":"1/27","v":1.0},{"s":"G11","d":"1/28","v":0.0},{"s":"G11","d":"1/31","v":-1.0},{"s":"G11","d":"2/1","v":1.0},{"s":"G11","d":"2/2","v":3.0},{"s":"G11","d":"2/3","v":2.5},{"s":"G11","d":"2/4","v":3.5},{"s":"G11","d":"2/7","v":4.0},{"s":"G11","d":"2/8","v":3.0},{"s":"G11","d":"2/9","v":2.0},{"s":"G11","d":"2/10","v":2.5},
      {"s":"N1","d":"1/4","v":0.5},{"s":"N1","d":"1/5","v":0.0},{"s":"N1","d":"1/6","v":0.5},{"s":"N1","d":"1/7","v":1.0},{"s":"N1","d":"1/11","v":1.5},{"s":"N1","d":"1/12","v":3.5},{"s":"N1","d":"1/13","v":4.7},{"s":"N1","d":"1/14","v":4.7},{"s":"N1","d":"1/17","v":4.7},{"s":"N1","d":"1/18","v":4.5},{"s":"N1","d":"1/19","v":1.0},{"s":"N1","d":"1/20","v":4.0},{"s":"N1","d":"1/21","v":2.0},{"s":"N1","d":"1/24","v":0.5},{"s":"N1","d":"1/25","v":-1.0},{"s":"N1","d":"1/26","v":-2.0},{"s":"N1","d":"1/27","v":-3.5},{"s":"N1","d":"1/28","v":-4.0},{"s":"N1","d":"1/31","v":-3.5},{"s":"N1","d":"2/1","v":-3.0},{"s":"N1","d":"2/2","v":-2.5},{"s":"N1","d":"2/3","v":-2.0},{"s":"N1","d":"2/4","v":-3.0},{"s":"N1","d":"2/7","v":-3.5},{"s":"N1","d":"2/8","v":-1.0},{"s":"N1","d":"2/9","v":0.0},{"s":"N1","d":"2/10","v":0.5},
      {"s":"N2","d":"1/4","v":0.0},{"s":"N2","d":"1/5","v":-1.0},{"s":"N2","d":"1/6","v":-1.5},{"s":"N2","d":"1/7","v":-1.5},{"s":"N2","d":"1/11","v":-1.5},{"s":"N2","d":"1/12","v":-2.0},{"s":"N2","d":"1/13","v":-1.5},{"s":"N2","d":"1/14","v":-2.0},{"s":"N2","d":"1/17","v":-0.5},{"s":"N2","d":"1/18","v":-1.0},{"s":"N2","d":"1/19","v":-2.0},{"s":"N2","d":"1/20","v":-1.0},{"s":"N2","d":"1/21","v":-1.5},{"s":"N2","d":"1/24","v":-3.5},{"s":"N2","d":"1/25","v":-5.0},{"s":"N2","d":"1/26","v":-6.5},{"s":"N2","d":"1/27","v":-7.0},{"s":"N2","d":"1/28","v":-8.5},{"s":"N2","d":"1/31","v":-10.0},{"s":"N2","d":"2/1","v":-7.5},{"s":"N2","d":"2/2","v":-6.5},{"s":"N2","d":"2/3","v":-6.0},{"s":"N2","d":"2/4","v":-5.9},{"s":"N2","d":"2/7","v":-7.9},{"s":"N2","d":"2/8","v":-4.1},{"s":"N2","d":"2/9","v":-3.0},{"s":"N2","d":"2/10","v":-2.5},
      {"s":"A","d":"1/4","v":0.1},{"s":"A","d":"1/5","v":0.0},{"s":"A","d":"1/6","v":-0.2},{"s":"A","d":"1/7","v":-0.1},{"s":"A","d":"1/11","v":-0.2},{"s":"A","d":"1/12","v":-0.1},{"s":"A","d":"1/13","v":-0.2},{"s":"A","d":"1/14","v":-0.3},{"s":"A","d":"1/17","v":-0.3},{"s":"A","d":"1/18","v":-0.4},{"s":"A","d":"1/19","v":-1.3},{"s":"A","d":"1/20","v":-1.3},{"s":"A","d":"1/21","v":-1.4},{"s":"A","d":"1/24","v":-1.4},{"s":"A","d":"1/25","v":-1.5},{"s":"A","d":"1/26","v":-1.6},{"s":"A","d":"1/27","v":-1.6},{"s":"A","d":"1/28","v":-1.4},{"s":"A","d":"1/31","v":-1.2},{"s":"A","d":"2/1","v":-1.4},{"s":"A","d":"2/2","v":-1.4},{"s":"A","d":"2/3","v":-1.5},{"s":"A","d":"2/4","v":-1.5},{"s":"A","d":"2/7","v":-1.7},{"s":"A","d":"2/8","v":-1.7},{"s":"A","d":"2/9","v":-1.6},{"s":"A","d":"2/10","v":-1.5},
      {"s":"AG","d":"1/4","v":-0.3},{"s":"AG","d":"1/5","v":-0.5},{"s":"AG","d":"1/6","v":-0.6},{"s":"AG","d":"1/7","v":-0.6},{"s":"AG","d":"1/11","v":-0.7},{"s":"AG","d":"1/12","v":-0.8},{"s":"AG","d":"1/13","v":-0.9},{"s":"AG","d":"1/14","v":-0.9},{"s":"AG","d":"1/17","v":-0.9},{"s":"AG","d":"1/18","v":-1.0},{"s":"AG","d":"1/19","v":-1.4},{"s":"AG","d":"1/20","v":-1.3},{"s":"AG","d":"1/21","v":-1.3},{"s":"AG","d":"1/24","v":-1.3},{"s":"AG","d":"1/25","v":-1.3},{"s":"AG","d":"1/26","v":-1.2},{"s":"AG","d":"1/27","v":-1.0},{"s":"AG","d":"1/28","v":-0.4},{"s":"AG","d":"1/31","v":0.0},{"s":"AG","d":"2/1","v":0.0},{"s":"AG","d":"2/2","v":-0.1},{"s":"AG","d":"2/3","v":-0.3},{"s":"AG","d":"2/4","v":-0.9},{"s":"AG","d":"2/7","v":-1.5},{"s":"AG","d":"2/8","v":-1.4},{"s":"AG","d":"2/9","v":-0.9},{"s":"AG","d":"2/10","v":-0.3},
      {"s":"AB","d":"1/4","v":1.4},{"s":"AB","d":"1/5","v":1.5},{"s":"AB","d":"1/6","v":2.9},{"s":"AB","d":"1/7","v":3.2},{"s":"AB","d":"1/11","v":2.6},{"s":"AB","d":"1/12","v":2.5},{"s":"AB","d":"1/13","v":1.8},{"s":"AB","d":"1/14","v":1.1},{"s":"AB","d":"1/17","v":1.5},{"s":"AB","d":"1/18","v":1.0},{"s":"AB","d":"1/19","v":-0.1},{"s":"AB","d":"1/20","v":0.3},{"s":"AB","d":"1/21","v":0.2},{"s":"AB","d":"1/24","v":0.0},{"s":"AB","d":"1/25","v":-0.5},{"s":"AB","d":"1/26","v":-0.9},{"s":"AB","d":"1/27","v":-1.7},{"s":"AB","d":"1/28","v":-1.6},{"s":"AB","d":"1/31","v":-0.9},{"s":"AB","d":"2/1","v":0.5},{"s":"AB","d":"2/2","v":1.5},{"s":"AB","d":"2/3","v":1.3},{"s":"AB","d":"2/4","v":0.5},{"s":"AB","d":"2/7","v":0.4},{"s":"AB","d":"2/8","v":0.6},{"s":"AB","d":"2/9","v":1.8},{"s":"AB","d":"2/10","v":3.2},
      {"s":"SA","d":"1/4","v":1.8},{"s":"SA","d":"1/5","v":2.9},{"s":"SA","d":"1/6","v":1.5},{"s":"SA","d":"1/7","v":1.3},{"s":"SA","d":"1/11","v":1.3},{"s":"SA","d":"1/12","v":2.9},{"s":"SA","d":"1/13","v":2.1},{"s":"SA","d":"1/14","v":1.3},{"s":"SA","d":"1/17","v":2.1},{"s":"SA","d":"1/18","v":1.0},{"s":"SA","d":"1/19","v":-1.1},{"s":"SA","d":"1/20","v":-0.5},{"s":"SA","d":"1/21","v":-0.6},{"s":"SA","d":"1/24","v":-0.6},{"s":"SA","d":"1/25","v":-1.1},{"s":"SA","d":"1/26","v":-2.2},{"s":"SA","d":"1/27","v":-4.3},{"s":"SA","d":"1/28","v":-2.8},{"s":"SA","d":"1/31","v":-1.7},{"s":"SA","d":"2/1","v":-1.2},{"s":"SA","d":"2/2","v":0.3},{"s":"SA","d":"2/3","v":0.2},{"s":"SA","d":"2/4","v":-0.1},{"s":"SA","d":"2/7","v":-0.1},{"s":"SA","d":"2/8","v":-0.1},{"s":"SA","d":"2/9","v":0.5},{"s":"SA","d":"2/10","v":1.7},
      {"s":"AN","d":"1/4","v":0.5},{"s":"AN","d":"1/5","v":-0.3},{"s":"AN","d":"1/6","v":-0.1},{"s":"AN","d":"1/7","v":-0.2},{"s":"AN","d":"1/11","v":-0.2},{"s":"AN","d":"1/12","v":0.7},{"s":"AN","d":"1/13","v":1.7},{"s":"AN","d":"1/14","v":1.3},{"s":"AN","d":"1/17","v":2.1},{"s":"AN","d":"1/18","v":1.7},{"s":"AN","d":"1/19","v":0.3},{"s":"AN","d":"1/20","v":2.0},{"s":"AN","d":"1/21","v":0.2},{"s":"AN","d":"1/24","v":-0.1},{"s":"AN","d":"1/25","v":-0.9},{"s":"AN","d":"1/26","v":-2.5},{"s":"AN","d":"1/27","v":-5.3},{"s":"AN","d":"1/28","v":-4.3},{"s":"AN","d":"1/31","v":-4.2},{"s":"AN","d":"2/1","v":-4.1},{"s":"AN","d":"2/2","v":-3.5},{"s":"AN","d":"2/3","v":-3.0},{"s":"AN","d":"2/4","v":-3.3},{"s":"AN","d":"2/7","v":-4.4},{"s":"AN","d":"2/8","v":-1.7},{"s":"AN","d":"2/9","v":-0.9},{"s":"AN","d":"2/10","v":-0.5},
      {"s":"AR","d":"1/4","v":-0.6},{"s":"AR","d":"1/5","v":-1.1},{"s":"AR","d":"1/6","v":-2.2},{"s":"AR","d":"1/7","v":-1.8},{"s":"AR","d":"1/11","v":-2.1},{"s":"AR","d":"1/12","v":-1.7},{"s":"AR","d":"1/13","v":-1.8},{"s":"AR","d":"1/14","v":-2.4},{"s":"AR","d":"1/17","v":-2.4},{"s":"AR","d":"1/18","v":-2.3},{"s":"AR","d":"1/19","v":-4.1},{"s":"AR","d":"1/20","v":-4.0},{"s":"AR","d":"1/21","v":-4.1},{"s":"AR","d":"1/24","v":-4.1},{"s":"AR","d":"1/25","v":-3.7},{"s":"AR","d":"1/26","v":-3.4},{"s":"AR","d":"1/27","v":-2.5},{"s":"AR","d":"1/28","v":-2.6},{"s":"AR","d":"1/31","v":-4.4},{"s":"AR","d":"2/1","v":-5.4},{"s":"AR","d":"2/2","v":-7.0},{"s":"AR","d":"2/3","v":-5.9},{"s":"AR","d":"2/4","v":-4.8},{"s":"AR","d":"2/7","v":-4.4},{"s":"AR","d":"2/8","v":-4.4},{"s":"AR","d":"2/9","v":-5.2},{"s":"AR","d":"2/10","v":-6.2},
      {"s":"NK","d":"1/4","v":1.77},{"s":"NK","d":"1/5","v":1.88},{"s":"NK","d":"1/6","v":-1.06},{"s":"NK","d":"1/7","v":-1.09},{"s":"NK","d":"1/11","v":-1.98},{"s":"NK","d":"1/12","v":-0.09},{"s":"NK","d":"1/13","v":-1.05},{"s":"NK","d":"1/14","v":-2.32},{"s":"NK","d":"1/17","v":-1.59},{"s":"NK","d":"1/18","v":-1.86},{"s":"NK","d":"1/19","v":-4.60},{"s":"NK","d":"1/20","v":-3.54},{"s":"NK","d":"1/21","v":-4.41},{"s":"NK","d":"1/24","v":-4.18},{"s":"NK","d":"1/25","v":-5.77},{"s":"NK","d":"1/26","v":-6.18},{"s":"NK","d":"1/27","v":-9.10},{"s":"NK","d":"1/28","v":-7.20},{"s":"NK","d":"1/31","v":-6.22},{"s":"NK","d":"2/1","v":-5.95},{"s":"NK","d":"2/2","v":-4.37},{"s":"NK","d":"2/3","v":-5.38},{"s":"NK","d":"2/4","v":-4.69},{"s":"NK","d":"2/7","v":-5.36},{"s":"NK","d":"2/8","v":-5.23},{"s":"NK","d":"2/9","v":-4.21},{"s":"NK","d":"2/10","v":-3.81}
    ]
  },
  "data": {"name": "rows"},
  "transform": [
    {"lookup": "s", "from": {"data": {"name": "series"}, "key": "s", "fields": ["g", "k"]}}
  ],
  "encoding": {
    "x": {
      "field": "d", "type": "ordinal", "bandPosition": 0.5,
      "scale": {
        "type": "band", "paddingInner": 0, "paddingOuter": 0,
        "domain": ["1/4","1/5","1/6","1/7","1/8","1/9","1/10","1/11","1/12","1/13","1/14","1/15","1/16","1/17","1/18","1/19","1/20","1/21","1/22","1/23","1/24","1/25","1/26","1/27","1/28","1/29","1/30","1/31","2/1","2/2","2/3","2/4","2/5","2/6","2/7","2/8","2/9","2/10"]
      },
      "axis": {
        "title": "日付", "tickBand": "extent", "grid": true, "gridColor": "black", "gridOpacity": 1,
        "ticks": false, "domain": false, "labelAngle": -90, "labelAlign": "right", "labelBaseline": "middle",
        "labelPadding": 12, "labelFontSize": 13, "labelColor": "black",
        "titleFontSize": 14, "titleFontWeight": "normal", "titleColor": "black", "titlePadding": 31
      }
    },
    "y": {
      "field": "v", "type": "quantitative",
      "scale": {"domain": [-50, 20], "nice": false, "zero": false},
      "axis": {
        "title": "増減率", "values": [-50, -40, -30, -20, -10, 0, 10, 20],
        "labelExpr": "(datum.value >= 0 ? '+' : '-') + abs(datum.value) + '%'",
        "labelColor": {"condition": {"test": "datum.value < 0", "value": "red"}, "value": "black"},
        "grid": true, "gridColor": "black", "gridOpacity": 1, "ticks": false, "domain": false,
        "labelPadding": 12, "labelFontSize": 14,
        "titleFontSize": 14, "titleFontWeight": "normal", "titleColor": "black", "titlePadding": 16
      }
    },
    "color": {
      "field": "g", "type": "nominal",
      "scale": {
        "domain": ["平均", "順張り系", "逆張り系", "オシレータ系", "その他", "s日経平均株価", "s平均"],
        "range": ["#333399", "#FF0000", "#0000FF", "#00FF00", "#993300", "#FF6600", "#CC99FF"]
      },
      "legend": {
        "title": null, "orient": "none", "legendX": 743, "legendY": -67,
        "strokeColor": "black", "fillColor": "white", "padding": 6,
        "symbolType": "stroke", "symbolStrokeWidth": 3, "symbolSize": 784,
        "labelFontSize": 13, "labelColor": "black", "labelOffset": 1,
        "clipHeight": 13, "rowPadding": 10.5
      }
    },
    "detail": {"field": "s"},
    "order": {"value": null}
  },
  "layer": [
    {"transform": [{"filter": "datum.k == 'sys'"}], "mark": {"type": "line", "strokeWidth": 1}},
    {"transform": [{"filter": "datum.k == 'avg'"}], "mark": {"type": "line", "strokeWidth": 4}}
  ],
  "config": {
    "view": {"stroke": "black", "strokeWidth": 1},
    "font": "Noto Sans CJK JP"
  }
}
